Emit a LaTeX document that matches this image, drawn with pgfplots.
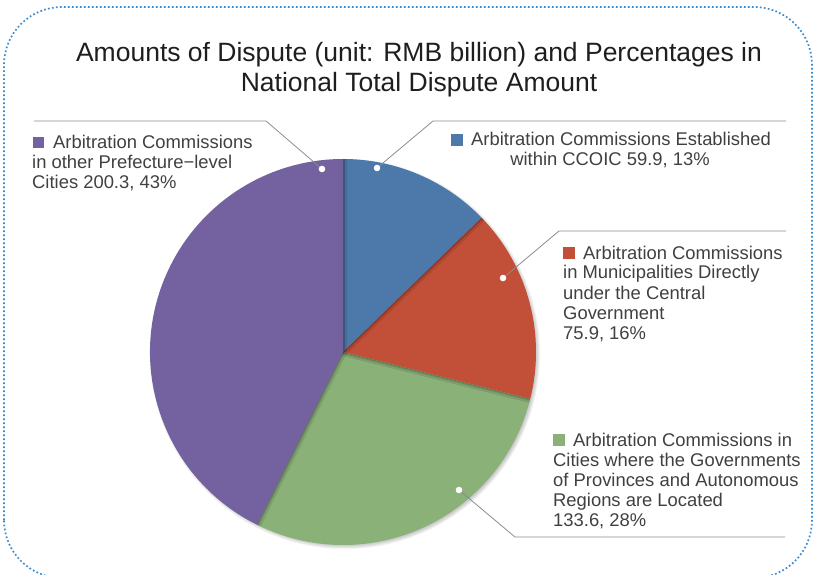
\documentclass[border=0pt]{standalone}
\usepackage{pgfplots}
\pgfplotsset{compat=1.18}
\usepackage{fontspec}
\setmainfont{Liberation Sans}
\definecolor{cblue}{HTML}{4C79A9}
\definecolor{cred}{HTML}{C24F38}
\definecolor{cgreen}{HTML}{8AB178}
\definecolor{cpurple}{HTML}{7462A0}
\definecolor{txt}{HTML}{404040}
\definecolor{ttl}{HTML}{1E1E1E}
\definecolor{lead}{HTML}{8C8C8C}
\definecolor{bord}{HTML}{3A8AD0}
\begin{document}
\begin{tikzpicture}
% data (RMB billion)
\def\vA{59.9}\def\vB{75.9}\def\vC{133.6}\def\vD{200.3}
\pgfmathsetmacro\tot{\vA+\vB+\vC+\vD}
\pgfmathsetmacro\aA{90}
\pgfmathsetmacro\aB{\aA-\vA/\tot*360}
\pgfmathsetmacro\aC{\aB-\vB/\tot*360}
\pgfmathsetmacro\aD{\aC-\vC/\tot*360}
\pgfmathsetmacro\aE{\aD-\vD/\tot*360}
\def\R{193pt}
% shadow offsets on the receiving side of each boundary (light from upper left)
\pgfmathsetmacro\sAx{1}\pgfmathsetmacro\sAy{0}
\pgfmathsetmacro\sBx{sin(\aB)}\pgfmathsetmacro\sBy{-cos(\aB)}
\pgfmathsetmacro\sCx{sin(\aC)}\pgfmathsetmacro\sCy{-cos(\aC)}
\pgfmathsetmacro\sDx{-sin(\aD)}\pgfmathsetmacro\sDy{cos(\aD)}
\begin{axis}[at={(0,0)},anchor=origin,scale only axis,width=814pt,height=574pt,
  xmin=0,xmax=814,ymin=0,ymax=574,hide axis,clip=false]
% border
\draw[bord,line width=1.7pt,dash pattern=on 1.7pt off 2.3pt,rounded corners=58pt]
  (axis cs:4,-4) rectangle (axis cs:812,567);
% soft shadow
\pgfplotsinvokeforeach{1,2,3,4,5,6}{
  \fill[black,opacity=0.05] (axis cs:345,220) circle[radius=189pt+#1pt];
}
% slices
\fill[cblue] (axis cs:343,222) -- ++(\aA:\R) arc[start angle=\aA,end angle=\aB,radius=\R] -- cycle;
\fill[cred] (axis cs:343,222) -- ++(\aB:\R) arc[start angle=\aB,end angle=\aC,radius=\R] -- cycle;
\fill[cgreen] (axis cs:343,222) -- ++(\aC:\R) arc[start angle=\aC,end angle=\aD,radius=\R] -- cycle;
\fill[cpurple] (axis cs:343,222) -- ++(\aD:\R) arc[start angle=\aD,end angle=\aE,radius=\R] -- cycle;
% inner edge shadows
\begin{scope}
\clip (axis cs:343,222) circle[radius=\R];
\draw[black,opacity=0.10,line width=4pt] ([shift={(2*\sAx pt,2*\sAy pt)}]axis cs:343,222) -- ++(\aA:\R);
\draw[black,opacity=0.18,line width=1.6pt] ([shift={(0.8*\sAx pt,0.8*\sAy pt)}]axis cs:343,222) -- ++(\aA:\R);
\draw[black,opacity=0.10,line width=4pt] ([shift={(2*\sBx pt,2*\sBy pt)}]axis cs:343,222) -- ++(\aB:\R);
\draw[black,opacity=0.18,line width=1.6pt] ([shift={(0.8*\sBx pt,0.8*\sBy pt)}]axis cs:343,222) -- ++(\aB:\R);
\draw[black,opacity=0.10,line width=4pt] ([shift={(2*\sCx pt,2*\sCy pt)}]axis cs:343,222) -- ++(\aC:\R);
\draw[black,opacity=0.18,line width=1.6pt] ([shift={(0.8*\sCx pt,0.8*\sCy pt)}]axis cs:343,222) -- ++(\aC:\R);
\draw[black,opacity=0.10,line width=4pt] ([shift={(2*\sDx pt,2*\sDy pt)}]axis cs:343,222) -- ++(\aD:\R);
\draw[black,opacity=0.18,line width=1.6pt] ([shift={(0.8*\sDx pt,0.8*\sDy pt)}]axis cs:343,222) -- ++(\aD:\R);
\end{scope}
% title
\node[ttl,anchor=base,inner sep=0pt,font=\fontsize{26.5}{30}\selectfont] at (axis cs:419,512) {Amounts of Dispute (unit: RMB billion) and Percentages in};
\node[ttl,anchor=base,inner sep=0pt,font=\fontsize{26.5}{30}\selectfont] at (axis cs:419,482) {National Total Dispute Amount};
% leader lines
\draw[lead,line width=0.8pt] (axis cs:322,405) -- (axis cs:266,453) -- (axis cs:34,453);
\draw[lead,line width=0.8pt] (axis cs:377,406) -- (axis cs:433,453) -- (axis cs:786,453);
\draw[lead,line width=0.8pt] (axis cs:503,296) -- (axis cs:559,343) -- (axis cs:786,343);
\draw[lead,line width=0.8pt] (axis cs:459,84) -- (axis cs:515,37) -- (axis cs:785,37);
\fill[white] (axis cs:322,405) circle[radius=3.3pt];
\fill[white] (axis cs:377,406) circle[radius=3.3pt];
\fill[white] (axis cs:503,296) circle[radius=3.3pt];
\fill[white] (axis cs:459,84) circle[radius=3.3pt];
% purple label
\fill[cpurple] (axis cs:33,426) rectangle (axis cs:44,437);
\begin{scope}[every node/.style={txt,anchor=base west,inner sep=0pt,font=\fontsize{18.4}{20}\selectfont}]
\node at (axis cs:53,425) {Arbitration Commissions};
\node at (axis cs:32,405) {in other Prefecture−level};
\node at (axis cs:32,385) {Cities 200.3, 43\%};
% blue label
\fill[cblue] (axis cs:451,428) rectangle (axis cs:463,440);
\node at (axis cs:471,428) {Arbitration Commissions Established};
\node[anchor=base] at (axis cs:610,408) {within CCOIC 59.9, 13\%};
% red label
\fill[cred] (axis cs:563,315) rectangle (axis cs:575,327);
\node at (axis cs:583,315) {Arbitration Commissions};
\node at (axis cs:563,295) {in Municipalities Directly};
\node at (axis cs:563,275) {under the Central};
\node at (axis cs:563,255) {Government};
\node at (axis cs:563,235) {75.9, 16\%};
% green label
\fill[cgreen] (axis cs:553,128) rectangle (axis cs:565,140);
\node at (axis cs:573,128) {Arbitration Commissions in};
\node at (axis cs:553,108) {Cities where the Governments};
\node at (axis cs:553,88) {of Provinces and Autonomous};
\node at (axis cs:553,68) {Regions are Located};
\node at (axis cs:553,48) {133.6, 28\%};
\end{scope}
\end{axis}
\pgfresetboundingbox
\path[use as bounding box] (0,0) rectangle (814pt,574pt);
\end{tikzpicture}
\end{document}
